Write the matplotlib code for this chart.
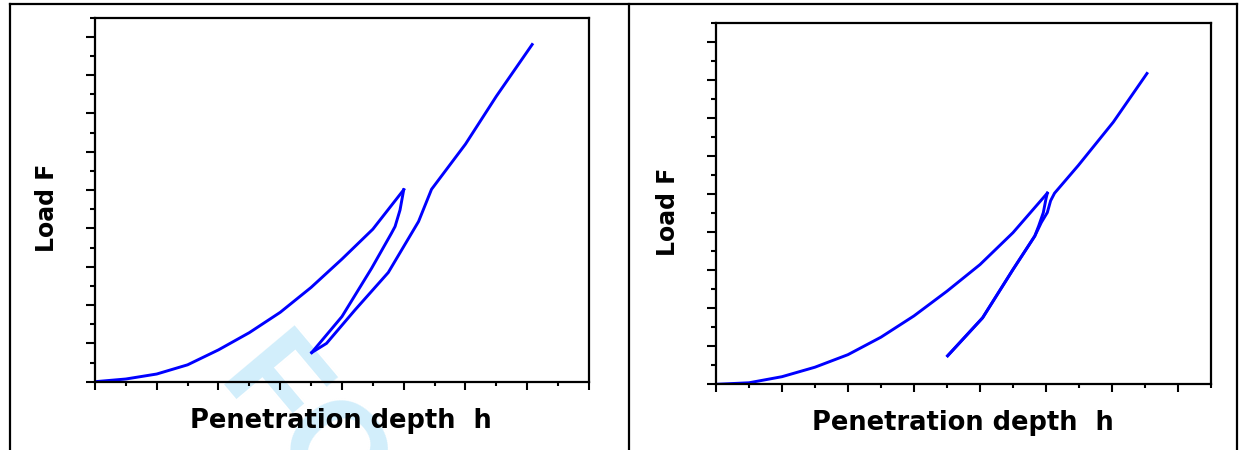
import matplotlib.pyplot as plt
from matplotlib.lines import Line2D
from matplotlib.ticker import MultipleLocator

# Indentation curves: loading, unloading and reloading branches (arbitrary units)
# Panel 1
load_h_a = [0, 0.5, 1.0, 1.5, 2.0, 2.5, 3.0, 3.5, 4.0, 4.5, 5.0]
load_F_a = [0, 0.07, 0.20, 0.44, 0.83, 1.28, 1.81, 2.46, 3.20, 3.98, 5.01]
unload_h_a = [5.0, 4.94, 4.86, 4.80, 4.48, 4.0, 3.51]
unload_F_a = [5.01, 4.48, 4.05, 3.87, 2.96, 1.70, 0.76]
reload_h_a = [3.51, 3.75, 4.21, 4.75, 5.24, 5.45, 6.0, 6.5, 7.08]
reload_F_a = [0.76, 1.0, 1.87, 2.85, 4.18, 5.02, 6.2, 7.45, 8.8]

# Panel 2
load_h_b = [0, 0.5, 1.0, 1.5, 2.0, 2.5, 3.0, 3.5, 4.0, 4.5, 5.02]
load_F_b = [0, 0.04, 0.20, 0.45, 0.78, 1.24, 1.80, 2.45, 3.15, 3.99, 5.03]
unload_h_b = [5.02, 5.0, 4.96, 4.89, 4.83, 4.50, 4.04, 3.51]
unload_F_b = [5.03, 4.88, 4.52, 4.17, 3.90, 3.02, 1.75, 0.75]
reload_h_b = [3.51, 4.04, 4.50, 4.83, 4.93, 5.02, 5.07, 5.13, 5.49, 6.02, 6.53]
reload_F_b = [0.75, 1.75, 3.02, 3.90, 4.26, 4.52, 4.83, 5.03, 5.76, 6.90, 8.18]

panels = [
    dict(rect=[0.0762, 0.1518, 0.3965, 0.8089], xmax=8.0,
         curves=[(load_h_a, load_F_a), (unload_h_a, unload_F_a), (reload_h_a, reload_F_a)]),
    dict(rect=[0.5746, 0.1460, 0.3973, 0.8022], xmax=7.5,
         curves=[(load_h_b, load_F_b), (unload_h_b, unload_F_b), (reload_h_b, reload_F_b)]),
]

xlabel = 'Penetration depth  h'
ylabel = 'Load F'

fig = plt.figure(figsize=(12.46, 4.5), dpi=100)
fig.patch.set_facecolor('white')

# faint watermark behind everything
fig.text(0.172, 0.149, 'FO', fontsize=96, fontweight='bold', family='Liberation Sans',
         color='#d2eefb', rotation=-50, rotation_mode='anchor', ha='left', va='baseline',
         zorder=-5)

for p in panels:
    ax = fig.add_axes(p['rect'])
    ax.set_facecolor('none')
    for h, F in p['curves']:
        ax.plot(h, F, color='#0000ff', lw=2.1)

    ax.set_xlim(0, p['xmax'])
    ax.set_ylim(0, 9.5)
    ax.xaxis.set_major_locator(MultipleLocator(1))
    ax.xaxis.set_minor_locator(MultipleLocator(0.5))
    ax.yaxis.set_major_locator(MultipleLocator(1))
    ax.yaxis.set_minor_locator(MultipleLocator(0.5))
    ax.tick_params(axis='both', which='both', direction='out', width=1.5,
                   labelbottom=False, labelleft=False, top=False, right=False)
    ax.tick_params(axis='x', which='major', length=5.5)
    ax.tick_params(axis='x', which='minor', length=3)
    ax.tick_params(axis='y', which='major', length=6.5)
    ax.tick_params(axis='y', which='minor', length=3.5)
    for s in ax.spines.values():
        s.set_linewidth(1.6)

    ax.set_xlabel(xlabel, fontsize=18.5, fontweight='bold', family='DejaVu Sans', va='center')
    ax.xaxis.set_label_coords(0.498, -0.107)
    ax.set_ylabel(ylabel, fontsize=17, fontweight='bold', family='DejaVu Sans', va='center')
    ax.yaxis.set_label_coords(-0.097, 0.477)

# table frame around the two panels
frame = dict(color='black', lw=1.6, transform=fig.transFigure)
fig.add_artist(Line2D([0.008, 0.9928], [0.991, 0.991], **frame))
fig.add_artist(Line2D([0.008, 0.008], [0.0, 0.991], **frame))
fig.add_artist(Line2D([0.5048, 0.5048], [0.0, 0.991], **frame))
fig.add_artist(Line2D([0.9928, 0.9928], [0.0, 0.991], **frame))

fig.savefig('out.png', dpi=100)
